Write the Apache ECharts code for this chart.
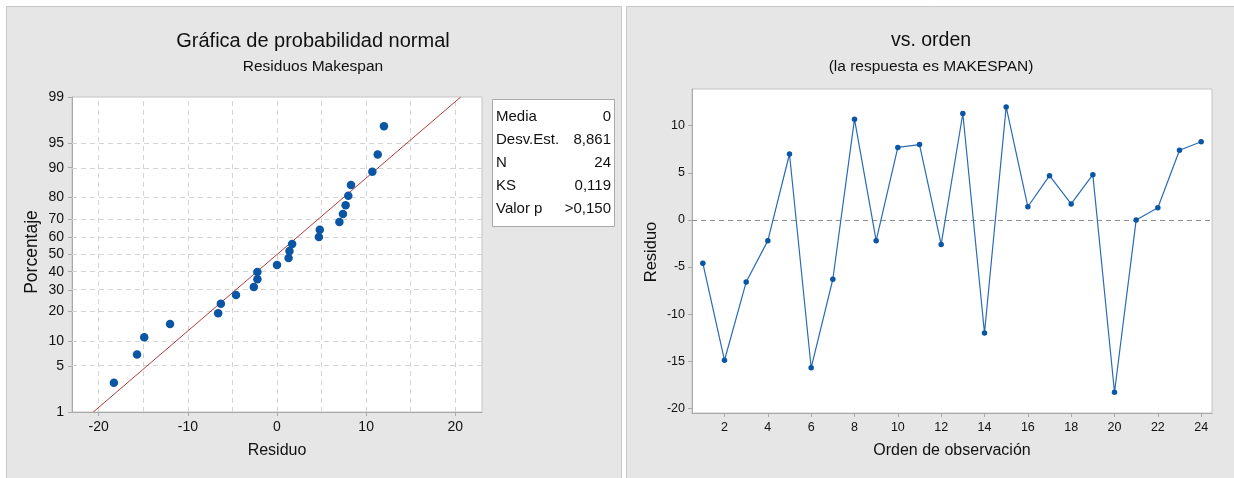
<!DOCTYPE html>
<html>
<head>
<meta charset="utf-8">
<script src="https://cdn.jsdelivr.net/npm/echarts@6/dist/echarts.min.js"></script>
<style>
  html, body { margin: 0; padding: 0; background: #ffffff; }
  #c { width: 1234px; height: 478px; }
</style>
</head>
<body>
<div id="c"></div>
<script>
// Residuals of MAKESPAN, in observation order
const orden = [1, 2, 3, 4, 5, 6, 7, 8, 9, 10, 11, 12, 13, 14, 15, 16, 17, 18, 19, 20, 21, 22, 23, 24];
const residuos = [-4.6, -14.9, -6.6, -2.2, 7.0, -15.7, -6.3, 10.7, -2.2, 7.7, 8.0, -2.6,
                  11.3, -12.0, 12.0, 1.4, 4.7, 1.7, 4.8, -18.3, 0.0, 1.3, 7.4, 8.3];
// Cumulative percentage assigned to each ordered residual
const porcentajes = [2.9, 7.0, 11.1, 15.2, 19.3, 23.4, 27.5, 31.6, 35.7, 39.8, 43.9, 48.0,
                     52.0, 56.1, 60.2, 64.3, 68.4, 72.5, 76.6, 80.7, 84.8, 88.9, 93.0, 97.1];
// Fitted normal line (Media 0, Desv.Est. 8,861) between the 1 % and 99 % levels
const ajusteX = [-20.61, 20.61];
const ajusteP = [1, 99];
// Axis ticks
const pctTicks = [1, 5, 10, 20, 30, 40, 50, 60, 70, 80, 90, 95, 99];
const residuoTicks = [-20, -10, 0, 10, 20];
const residuoGrid = [-20, -15, -10, -5, 0, 5, 10, 15, 20];
const ordenTicks = [2, 4, 6, 8, 10, 12, 14, 16, 18, 20, 22, 24];
const residuoTicksY = [-20, -15, -10, -5, 0, 5, 10];
// Summary table
const estadNombres = ['Media', 'Desv.Est.', 'N', 'KS', 'Valor p'];
const estadValores = ['0', '8,861', '24', '0,119', '>0,150'];

// Inverse of the standard normal CDF (Acklam's rational approximation)
function probit(p) {
  const a = [-3.969683028665376e+01, 2.209460984245205e+02, -2.759285104469687e+02, 1.383577518672690e+02, -3.066479806614716e+01, 2.506628277459239e+00];
  const b = [-5.447609879822406e+01, 1.615858368580409e+02, -1.556989798598866e+02, 6.680131188771972e+01, -1.328068155288572e+01];
  const c = [-7.784894002430293e-03, -3.223964580411365e-01, -2.400758277161838e+00, -2.549732539343734e+00, 4.374664141464968e+00, 2.938163982698783e+00];
  const d = [7.784695709041462e-03, 3.224671290700398e-01, 2.445134137142996e+00, 3.754408661907416e+00];
  const pl = 0.02425;
  if (p < pl) {
    const q = Math.sqrt(-2 * Math.log(p));
    return (((((c[0]*q+c[1])*q+c[2])*q+c[3])*q+c[4])*q+c[5]) / ((((d[0]*q+d[1])*q+d[2])*q+d[3])*q+1);
  }
  if (p > 1 - pl) {
    const q = Math.sqrt(-2 * Math.log(1 - p));
    return -(((((c[0]*q+c[1])*q+c[2])*q+c[3])*q+c[4])*q+c[5]) / ((((d[0]*q+d[1])*q+d[2])*q+d[3])*q+1);
  }
  const q = p - 0.5, r = q * q;
  return (((((a[0]*r+a[1])*r+a[2])*r+a[3])*r+a[4])*r+a[5])*q / (((((b[0]*r+b[1])*r+b[2])*r+b[3])*r+b[4])*r+1);
}
const z = pct => probit(pct / 100);

const zTicks = pctTicks.map(z);
const zMin = z(pctTicks[0]);
const zMax = z(pctTicks[pctTicks.length - 1]);

const ordenados = residuos.slice().sort((a, b) => a - b);
const probData = ordenados.map((r, i) => [r, z(porcentajes[i])]);
const ajusteData = ajusteX.map((x, i) => [x, z(ajusteP[i])]);
const ordenData = orden.map((o, i) => [o, residuos[i]]);

const FONT = "'Liberation Sans', Arial, sans-serif";
const AXIS_GREY = '#a9a9a9';
const TEXT = '#111111';
const BLUE = '#0a55a4';

const gridMarks = residuoGrid.map(v => ({ xAxis: v }))
  .concat(pctTicks.slice(1, -1).map(p => ({ yAxis: z(p) })));

// Panel frames, titles, axis titles and the summary table
const graphic = [
  { type: 'rect', silent: true, z: -10, shape: { x: 6.5, y: 6.5, width: 615, height: 480 },
    style: { fill: '#e6e6e6', stroke: '#c6c6c6', lineWidth: 1 } },
  { type: 'rect', silent: true, z: -10, shape: { x: 626.5, y: 6.5, width: 615, height: 480 },
    style: { fill: '#e6e6e6', stroke: '#c6c6c6', lineWidth: 1 } },
  { type: 'text', x: 313, y: 41, style: { text: 'Gráfica de probabilidad normal', font: '20px ' + FONT, fill: TEXT, textAlign: 'center', textVerticalAlign: 'middle' } },
  { type: 'text', x: 313, y: 67, style: { text: 'Residuos Makespan', font: '15.5px ' + FONT, fill: TEXT, textAlign: 'center', textVerticalAlign: 'middle' } },
  { type: 'text', x: 931, y: 41, style: { text: 'vs. orden', font: '19.5px ' + FONT, fill: TEXT, textAlign: 'center', textVerticalAlign: 'middle' } },
  { type: 'text', x: 931, y: 67, style: { text: '(la respuesta es MAKESPAN)', font: '15.5px ' + FONT, fill: TEXT, textAlign: 'center', textVerticalAlign: 'middle' } },
  { type: 'text', x: 277, y: 451, style: { text: 'Residuo', font: '16px ' + FONT, fill: TEXT, textAlign: 'center', textVerticalAlign: 'middle' } },
  { type: 'text', x: 952, y: 451, style: { text: 'Orden de observación', font: '16px ' + FONT, fill: TEXT, textAlign: 'center', textVerticalAlign: 'middle' } },
  { type: 'text', x: 32, y: 252, rotation: Math.PI / 2, style: { text: 'Porcentaje', font: '17.5px ' + FONT, fill: TEXT, textAlign: 'center', textVerticalAlign: 'middle' } },
  { type: 'text', x: 651, y: 252, rotation: Math.PI / 2, style: { text: 'Residuo', font: '16.5px ' + FONT, fill: TEXT, textAlign: 'center', textVerticalAlign: 'middle' } },
  { type: 'rect', silent: true, shape: { x: 492.5, y: 99.5, width: 122, height: 127 },
    style: { fill: '#ffffff', stroke: '#a9a9a9', lineWidth: 1 } }
];
estadNombres.forEach((n, i) => {
  const y = 117 + i * 23;
  graphic.push({ type: 'text', x: 496, y: y, style: { text: n, font: '15px ' + FONT, fill: TEXT, textAlign: 'left', textVerticalAlign: 'middle' } });
  graphic.push({ type: 'text', x: 611, y: y, style: { text: estadValores[i], font: '15px ' + FONT, fill: TEXT, textAlign: 'right', textVerticalAlign: 'middle' } });
});

const chart = echarts.init(document.getElementById('c'), null, { renderer: 'canvas' });
chart.setOption({
  animation: false,
  backgroundColor: '#ffffff',
  textStyle: { fontFamily: FONT },
  graphic: graphic,
  grid: [
    { left: 72, top: 97, width: 410, height: 315, show: true, backgroundColor: '#ffffff', borderColor: '#c4c4c4', borderWidth: 1 },
    { left: 692, top: 89, width: 520, height: 324, show: true, backgroundColor: '#ffffff', borderColor: '#c4c4c4', borderWidth: 1 }
  ],
  xAxis: [
    { gridIndex: 0, type: 'value', min: -23, max: 23,
      axisLine: { show: true, onZero: false, lineStyle: { color: AXIS_GREY } },
      axisTick: { show: true, length: 4, customValues: residuoTicks, lineStyle: { color: AXIS_GREY } },
      axisLabel: { customValues: residuoTicks, fontSize: 14, color: TEXT, margin: 8 },
      splitLine: { show: false } },
    { gridIndex: 1, type: 'value', min: 0.5, max: 24.5,
      axisLine: { show: true, onZero: false, lineStyle: { color: AXIS_GREY } },
      axisTick: { show: true, length: 4, customValues: ordenTicks, lineStyle: { color: AXIS_GREY } },
      axisLabel: { customValues: ordenTicks, fontSize: 12.5, color: TEXT, margin: 8 },
      splitLine: { show: false } }
  ],
  yAxis: [
    { gridIndex: 0, type: 'value', min: zMin, max: zMax,
      axisLine: { show: true, onZero: false, lineStyle: { color: AXIS_GREY } },
      axisTick: { show: true, length: 4, customValues: zTicks, lineStyle: { color: AXIS_GREY } },
      axisLabel: { customValues: zTicks, fontSize: 14, color: TEXT, margin: 8,
        formatter: v => {
          let best = 0;
          zTicks.forEach((t, i) => { if (Math.abs(t - v) < Math.abs(zTicks[best] - v)) best = i; });
          return String(pctTicks[best]);
        } },
      splitLine: { show: false } },
    { gridIndex: 1, type: 'value', min: -20.5, max: 13.9,
      axisLine: { show: true, onZero: false, lineStyle: { color: AXIS_GREY } },
      axisTick: { show: true, length: 4, customValues: residuoTicksY, lineStyle: { color: AXIS_GREY } },
      axisLabel: { customValues: residuoTicksY, fontSize: 12.5, color: TEXT, margin: 7 },
      splitLine: { show: false } }
  ],
  series: [
    { type: 'line', xAxisIndex: 0, yAxisIndex: 0, data: ajusteData, z: 2,
      showSymbol: false, symbol: 'none', silent: true,
      lineStyle: { color: '#b03c3c', width: 1 },
      markLine: { z: 1, silent: true, symbol: ['none', 'none'], label: { show: false }, animation: false,
        lineStyle: { color: '#d4d4d4', type: [5, 4], width: 1 }, data: gridMarks } },
    { type: 'scatter', xAxisIndex: 0, yAxisIndex: 0, data: probData, z: 4,
      symbol: 'circle', symbolSize: 8.5, itemStyle: { color: BLUE, opacity: 1 } },
    { type: 'line', xAxisIndex: 1, yAxisIndex: 1, data: ordenData, z: 3,
      symbol: 'circle', symbolSize: 5.5, showSymbol: true,
      lineStyle: { color: '#2a6bb5', width: 1.2 },
      itemStyle: { color: BLUE, opacity: 1 },
      markLine: { z: 1, silent: true, symbol: ['none', 'none'], label: { show: false }, animation: false,
        lineStyle: { color: '#8e8e8e', type: [5, 4], width: 1 }, data: [{ yAxis: 0 }] } }
  ]
});
</script>
</body>
</html>
